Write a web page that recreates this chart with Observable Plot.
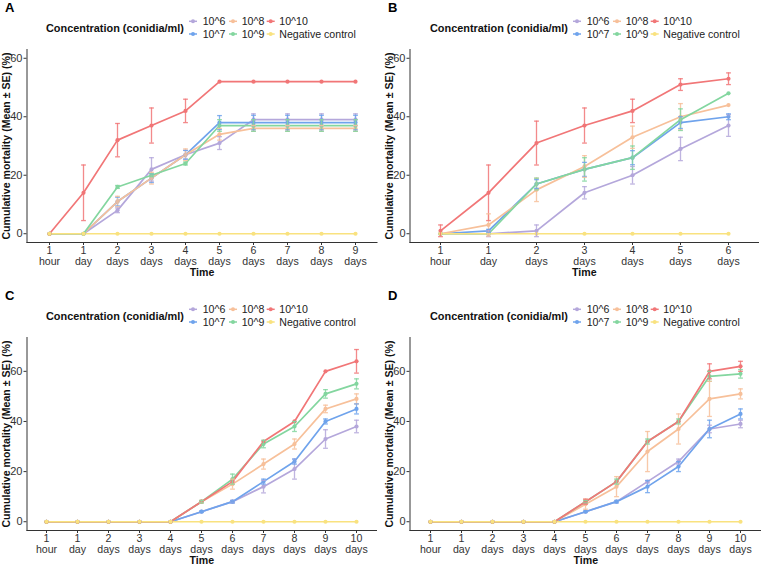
<!DOCTYPE html>
<html><head><meta charset="utf-8">
<script src="https://cdn.jsdelivr.net/npm/d3@7"></script>
<script src="https://cdn.jsdelivr.net/npm/@observablehq/plot@0.6"></script>
<style>
body{margin:0;background:#fff;}
#wrap{position:relative;width:761px;height:565px;overflow:hidden;font-family:"Liberation Sans",Arial,sans-serif;background:#fff;}
.panel{position:absolute;}
</style></head>
<body><div id="wrap"></div>
<script>
// ---- data ----
const series = ["10^6", "10^7", "10^8", "10^9", "10^10", "Negative control"];
const colors = ["#B4A7DB", "#6FA3EC", "#F7C09A", "#83D69F", "#F17677", "#F9E27F"];
const legendTitle = "Concentration (conidia/ml)";
const yTitle = "Cumulative mortality (Mean ± SE) (%)";
const xTitle = "Time";

const timesA = ["1 hour", "1 day", "2 days", "3 days", "4 days", "5 days", "6 days", "7 days", "8 days", "9 days"];
const meanA = [
  [0, 0, 8, 22, 27, 31, 39, 39, 39, 39],
  [0, 0, 11, 19, 27, 38, 38, 38, 38, 38],
  [0, 0, 11, 19, 27, 34, 36, 36, 36, 36],
  [0, 0, 16, 20, 24, 37, 37, 37, 37, 37],
  [0, 14, 32, 37, 42, 52, 52, 52, 52, 52],
  [0, 0, 0, 0, 0, 0, 0, 0, 0, 0]
];
const seA = [
  [0, 0, 0.8, 4, 1.5, 2.2, 2, 2, 2, 2],
  [0, 0, 1.5, 1.5, 1.5, 2.4, 2.5, 2.5, 2.5, 2.5],
  [0, 0, 1.8, 2, 2, 2, 1, 1, 1, 1],
  [0, 0, 0.5, 0.5, 0.5, 2, 2, 2, 2, 2],
  [0, 9.5, 5.7, 6, 4, 0, 0, 0, 0, 0],
  [0, 0, 0, 0, 0, 0, 0, 0, 0, 0]
];

const timesB = ["1 hour", "1 day", "2 days", "3 days", "4 days", "5 days", "6 days"];
const meanB = [
  [0, 0, 1, 14, 20, 29, 37],
  [0, 1, 17, 22, 26, 38, 40],
  [0, 3, 15, 23, 33, 40, 44],
  [0, 0, 17, 22, 26, 39, 48],
  [1, 14, 31, 37, 42, 51, 53],
  [0, 0, 0, 0, 0, 0, 0]
];
const seB = [
  [0, 1, 2, 2.1, 3, 4, 3.7],
  [0, 0.5, 1.5, 2.4, 2.4, 2, 1],
  [0, 3.8, 4, 3.7, 3.8, 4.5, 0],
  [0, 0, 2, 4, 4, 3.7, 0],
  [2, 9.5, 7.5, 6, 4, 2, 2],
  [0, 0, 0, 0, 0, 0, 0]
];

const timesCD = ["1 hour", "1 day", "2 days", "3 days", "4 days", "5 days", "6 days", "7 days", "8 days", "9 days", "10 days"];
const meanC = [
  [0, 0, 0, 0, 0, 4, 8, 14, 21, 33, 38],
  [0, 0, 0, 0, 0, 4, 8, 16, 24, 40, 45],
  [0, 0, 0, 0, 0, 8, 15, 23, 31, 45, 49],
  [0, 0, 0, 0, 0, 8, 17, 31, 38, 51, 55],
  [0, 0, 0, 0, 0, 8, 16, 32, 40, 60, 64],
  [0, 0, 0, 0, 0, 0, 0, 0, 0, 0, 0]
];
const seC = [
  [0, 0, 0, 0, 0, 0, 0.5, 2.5, 4, 3.7, 2.5],
  [0, 0, 0, 0, 0, 0.3, 0.5, 1, 1, 1, 2],
  [0, 0, 0, 0, 0, 0.5, 2, 2, 2, 1.5, 2],
  [0, 0, 0, 0, 0, 0.5, 2, 1.5, 2, 1.7, 2],
  [0, 0, 0, 0, 0, 0, 0, 0, 0, 0, 4.7],
  [0, 0, 0, 0, 0, 0, 0, 0, 0, 0, 0]
];
const meanD = [
  [0, 0, 0, 0, 0, 4, 8, 16, 24, 37, 39],
  [0, 0, 0, 0, 0, 4, 8, 14, 22, 37, 43],
  [0, 0, 0, 0, 0, 7, 14, 28, 37, 49, 51],
  [0, 0, 0, 0, 0, 8, 16, 32, 40, 58, 59],
  [0, 0, 0, 0, 0, 8, 16, 32, 40, 60, 62],
  [0, 0, 0, 0, 0, 0, 0, 0, 0, 0, 0]
];
const seD = [
  [0, 0, 0, 0, 0, 0, 0, 0.5, 1, 1.5, 1.5],
  [0, 0, 0, 0, 0, 0.3, 0.5, 2.4, 2, 3.5, 2],
  [0, 0, 0, 0, 0, 2, 4, 8, 6, 7, 2],
  [0, 0, 0, 0, 0, 0.5, 1, 1, 1, 2, 1.7],
  [0, 0, 0, 0, 0, 1, 0, 0, 0, 3, 2],
  [0, 0, 0, 0, 0, 0, 0, 0, 0, 0, 0]
];
const yTicks = [0, 20, 40, 60];

// ---- layout ----
const FONT = "Liberation Sans, Arial, sans-serif";
const panels = [
  {letter: "A", times: timesA, mean: meanA, se: seA, yDomain: [-3, 63], left: 0, top: 0, width: 380, mr: 3.5, legX: 46},
  {letter: "B", times: timesB, mean: meanB, se: seB, yDomain: [-3, 63], left: 383, top: 0, width: 378, mr: 3, legX: 430},
  {letter: "C", times: timesCD, mean: meanC, se: seC, yDomain: [-3.5, 73.5], left: 0, top: 288, width: 380, mr: 4, legX: 46},
  {letter: "D", times: timesCD, mean: meanD, se: seD, yDomain: [-3.5, 73.5], left: 383, top: 288, width: 378, mr: 0, legX: 430}
];

const cap = {draw(ctx, size) { const r = Math.sqrt(size / Math.PI); ctx.moveTo(-r, 0); ctx.lineTo(r, 0); }};

const wrap = document.getElementById("wrap");

for (const p of panels) {
  const rows = [];
  series.forEach((s, si) => p.times.forEach((t, ti) => {
    const v = p.mean[si][ti], e = p.se[si][ti];
    rows.push({series: s, time: t, value: v, se: e, lo: v - e, hi: v + e});
  }));
  const err = rows.filter(d => d.se > 0);
  const chart = Plot.plot({
    width: p.width, height: 277,
    marginLeft: 26.5, marginRight: p.mr, marginTop: 49, marginBottom: 35,
    style: {fontFamily: FONT, fontSize: "11px", color: "#333", background: "white", overflow: "visible"},
    x: {type: "point", domain: p.times, padding: 0.6, label: null},
    y: {domain: p.yDomain, label: null},
    color: {domain: series, range: colors},
    marks: [
      Plot.axisX({tickSize: 3, tickPadding: 1, tickFormat: t => t.replace(" ", "\n"), fontSize: 10.6, label: null, stroke: "#333"}),
      Plot.axisY({ticks: yTicks, tickSize: 3, tickPadding: 1.5, fontSize: 11, label: null, stroke: "#333"}),
      Plot.frame({anchor: "left", stroke: "#333"}),
      Plot.frame({anchor: "bottom", stroke: "#333"}),
      Plot.line(rows, {x: "time", y: "value", stroke: "series", z: "series", strokeWidth: 1.7}),
      Plot.dot(rows, {x: "time", y: "value", fill: "series", r: 2.1}),
      Plot.ruleX(err, {x: "time", y1: "lo", y2: "hi", stroke: "series", strokeWidth: 1.3, strokeOpacity: 0.85}),
      Plot.dot(err, {x: "time", y: "lo", symbol: cap, r: 2.4, stroke: "series", strokeWidth: 1.3, strokeOpacity: 0.85}),
      Plot.dot(err, {x: "time", y: "hi", symbol: cap, r: 2.4, stroke: "series", strokeWidth: 1.3, strokeOpacity: 0.85}),
      Plot.text([xTitle], {frameAnchor: "bottom", lineAnchor: "middle", dy: 30.2, fontWeight: "bold", fontSize: 10.6, fill: "#111"}),
      Plot.text([yTitle], {frameAnchor: "left", textAnchor: "middle", lineAnchor: "middle", rotate: -90, dx: -20.5, fontWeight: "bold", fontSize: 10.6, fill: "#111"})
    ]
  });
  const div = document.createElement("div");
  div.className = "panel";
  div.style.left = p.left + "px";
  div.style.top = p.top + "px";
  div.appendChild(chart);
  wrap.appendChild(div);
}

// ---- overlay: panel letters and legends ----
const ov = d3.select(wrap).append("svg")
  .attr("width", 761).attr("height", 565)
  .style("position", "absolute").style("left", 0).style("top", 0)
  .style("font-family", FONT);

const keyDx = [147, 187, 224.7];
const labDx = [156.7, 195.7, 233.3];
for (const p of panels) {
  ov.append("text").attr("x", p.left + 5).attr("y", p.top + 12)
    .attr("font-size", 13).attr("font-weight", "bold").attr("fill", "#000").text(p.letter);
  const yc = p.top + 28.3;
  ov.append("text").attr("x", p.legX).attr("y", yc).attr("dy", "0.35em")
    .attr("font-size", 10.9).attr("font-weight", "bold").attr("fill", "#111").text(legendTitle);
  series.forEach((s, i) => {
    const col = Math.floor(i / 2), row = i % 2;
    const cy = row === 0 ? yc - 7 : yc + 5.7;
    const kx = p.legX + keyDx[col];
    ov.append("line").attr("x1", kx - 4).attr("x2", kx + 4).attr("y1", cy).attr("y2", cy)
      .attr("stroke", colors[i]).attr("stroke-width", 1.5);
    ov.append("circle").attr("cx", kx).attr("cy", cy).attr("r", 2).attr("fill", colors[i]);
    ov.append("text").attr("x", p.legX + labDx[col]).attr("y", cy).attr("dy", "0.35em")
      .attr("font-size", 10.6).attr("fill", "#222").text(s);
  });
}
</script>
</body></html>
